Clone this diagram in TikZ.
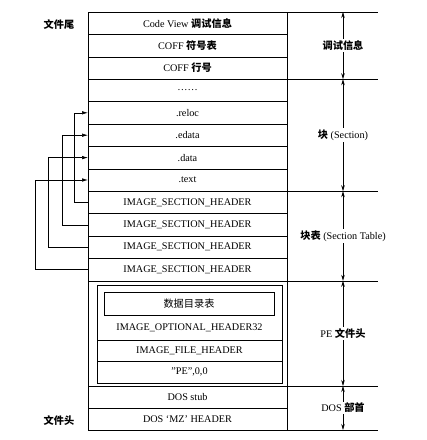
\documentclass[tikz,border=0pt]{standalone}
\usepackage{fontspec}
\setmainfont{Liberation Serif}
\newfontfamily\cjk{Noto Sans CJK SC}
\newcommand{\zh}[1]{{\cjk\bfseries #1}}
\usetikzlibrary{arrows.meta,positioning}
\tikzset{
  cell/.style={draw,line width=0.6pt,anchor=north west,minimum width=199pt,
    minimum height=22.4pt,inner sep=0pt,outer sep=0pt},
  link/.style={-{Latex[length=6pt,width=3.5pt]},line width=0.6pt},
  dim/.style={{Stealth[length=6pt,width=3.5pt]}-{Stealth[length=6pt,width=3.5pt]},line width=0.6pt},
  tag/.style={fill=white,inner sep=1.5pt}
}
\begin{document}
\begin{tikzpicture}[x=1pt,y=-1pt,every node/.style={font=\fontsize{10.2}{12}\selectfont}]
  \useasboundingbox (0,0) rectangle (427,440);
  % sections and section table
  \foreach \txt [count=\i] in {{Code View \zh{调试信息}},{COFF \zh{符号表}},{COFF \zh{行号}},
      {\dots\dots},{.reloc},{.edata},{.data},{.text},
      {IMAGE\_SECTION\_HEADER},{IMAGE\_SECTION\_HEADER},
      {IMAGE\_SECTION\_HEADER},{IMAGE\_SECTION\_HEADER}}
    \node[cell] (r\i) at (88,{12+22.4*(\i-1)}) {\txt};
  % PE header
  \node[cell,minimum height=105.2pt] (pe) at (88,280.8) {};
  \node[cell,minimum width=185pt,minimum height=98pt] (peIn) at (97,285) {};
  \node[cell,minimum width=170pt,minimum height=23pt] (dir) at (104,292) {{\cjk 数据目录表}};
  \node (opt) at (189.5,328) {IMAGE\_OPTIONAL\_HEADER32};
  \node[cell,minimum width=185pt,minimum height=21.5pt] (fh) at (97,340) {IMAGE\_FILE\_HEADER};
  \node[cell,minimum width=185pt,minimum height=21.5pt] (sig) at (97,361.5) {"PE",0,0};
  % DOS header
  \node[cell,minimum height=22pt] (stub) at (88,386) {DOS stub};
  \node[cell,minimum height=22pt] (mz) at (88,408) {DOS ‘MZ’ HEADER};
  \draw[line width=0.9pt] (r1.north west) rectangle (mz.south east);

  \node (tail) at (59,25) {\zh{文件尾}};
  \node (head) at (59,421) {\zh{文件头}};

  % header -> section
  \draw[link] (r9.west) -- ++(-14,0) |- (r5.west);
  \draw[link] (r10.west) -- ++(-26,0) |- (r6.west);
  \draw[link] (r11.west) -- ++(-40,0) |- (r7.west);
  \draw[link] (r12.west) -- ++(-53,0) |- (r8.west);

  % right side ranges
  \foreach \n in {r1.north east,r3.south east,r8.south east,r12.south east,pe.south east,mz.south east}
    \draw[line width=0.6pt] (\n) -- ++(91,0);
  \coordinate (ax) at (343,0);
  \draw[dim] (ax |- r1.north) -- node[tag] {\zh{调试信息}} (ax |- r3.south);
  \draw[dim] (ax |- r3.south) -- node[tag] {\zh{块} (Section)} (ax |- r8.south);
  \draw[dim] (ax |- r8.south) -- node[tag] {\zh{块表} (Section Table)} (ax |- r12.south);
  \draw[dim] (ax |- r12.south) -- node[tag] {PE \zh{文件头}} (ax |- pe.south);
  \draw[dim] (ax |- pe.south) -- node[tag] {DOS \zh{部首}} (ax |- mz.south);
\end{tikzpicture}
\end{document}
